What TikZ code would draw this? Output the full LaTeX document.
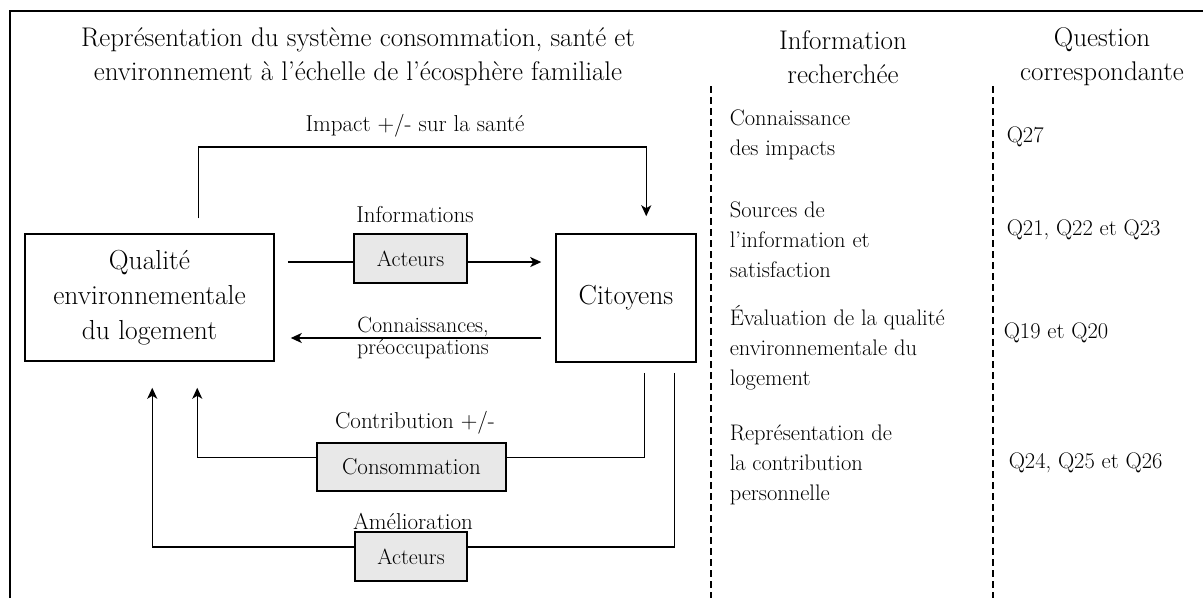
\documentclass[tikz,border=0pt]{standalone}
\usepackage{fontspec}
\usetikzlibrary{arrows.meta,calc}
\begin{document}
\begin{tikzpicture}[x=1pt,y=-1pt,line width=1.5pt,
  box/.style={draw,line width=1.5pt,inner sep=0pt,align=center,font=\fontsize{27.5}{35}\selectfont},
  gbox/.style={draw,fill=gray!18,line width=1.5pt,inner sep=0pt,font=\fontsize{22}{25}\selectfont},
  arr/.style={-{Stealth[length=11pt,width=10pt,inset=3pt]}},
  lbl/.style={inner sep=0pt,align=center,font=\fontsize{23}{26}\selectfont},
  head/.style={inner sep=0pt,align=center,font=\fontsize{27}{34}\selectfont},
  small/.style={inner sep=0pt,align=left,anchor=west,font=\fontsize{22.5}{30}\selectfont},
  sep/.style={line width=1.3pt,dash pattern=on 7pt off 4pt}]
\useasboundingbox (0,0) rectangle (1203,598);
\draw[line width=1.8pt] (10,598) -- (10,11) -- (1203,11);

% headers
\node[head] (title) at (358,57) {Représentation du système consommation, santé et\\environnement à l’échelle de l’écosphère familiale};
\node[head] (h1) at (843,57) {Information\\recherchée};
\node[head] (h2) at (1102,57) {Question\\correspondante};

% separators
\draw[sep] (711,86) -- (711,598);
\draw[sep] (993,86) -- (993,598);

% main boxes
\node[box,minimum width=249pt,minimum height=127pt] (qual) at (149.5,297.5) {Qualité\\environnementale\\du logement};
\node[box,minimum width=140pt,minimum height=128pt] (cit) at (626,298) {Citoyens};
\node[gbox,minimum width=113pt,minimum height=49pt] (act1) at (410.5,258.5) {Acteurs};
\node[gbox,minimum width=189pt,minimum height=48pt,font=\fontsize{23}{26}\selectfont] (cons) at (411.5,467) {Consommation};
\node[gbox,minimum width=112pt,minimum height=49pt] (act2) at (411,556.5) {Acteurs};

% labels
\node[lbl] (limp) at (415,126) {Impact +/- sur la santé};
\node[lbl] (linf) at (415,215) {Informations};
\node[lbl,font=\fontsize{22}{22}\selectfont] (lcon) at (423,338) {Connaissances,\\préoccupations};
\node[lbl] (lctr) at (415,423) {Contribution +/-};
\node[lbl] (lame) at (413,521) {Amélioration};

% top loop
\coordinate (tl) at ($(qual.north west)+(174,-15)$);
\coordinate (tr) at ($(cit.north west)+(91,-17)$);
\draw[arr] (tl) |- (tr |- 0,147) -- (tr);

% informations
\coordinate (a1w) at ($(act1.north west)!0.57!(act1.south west)$);
\coordinate (a1e) at ($(act1.north east)!0.57!(act1.south east)$);
\draw[shorten <=13pt] (qual.east |- a1w) -- (a1w);
\draw[arr,shorten >=14pt] (a1e) -- (cit.west |- a1e);

% connaissances
\draw[arr,shorten <=14pt,shorten >=16pt] (cit.west |- 0,338) -- (qual.east |- 0,338);

% bottom loops
\coordinate (r1) at ($(cit.south west)+(89,10)$);
\coordinate (r2) at ($(cit.south west)+(119,10)$);
\coordinate (l1) at ($(qual.south west)+(173,26)$);
\coordinate (l2) at ($(qual.south west)+(128,26)$);
\coordinate (ce) at ($(cons.north east)!0.31!(cons.south east)$);
\coordinate (cw) at ($(cons.north west)!0.31!(cons.south west)$);
\coordinate (a2e) at ($(act2.north east)!0.31!(act2.south east)$);
\coordinate (a2w) at ($(act2.north west)!0.31!(act2.south west)$);
\draw (r1) |- (ce);
\draw[arr] (cw) -| (l1);
\draw (r2) |- (a2e);
\draw[arr] (a2w) -| (l2);

% right columns
\node[small] (c1) at (729,135) {Connaissance\\des impacts};
\node[small] (c2) at (729,240) {Sources de\\l’information et\\satisfaction};
\node[small] (c3) at (729,348) {Évaluation de la qualité\\environnementale du\\logement};
\node[small] (c4) at (729,465) {Représentation de\\la contribution\\personnelle};
\node[small] (q1) at (1006,137) {Q27};
\node[small] (q2) at (1006,230) {Q21, Q22 et Q23};
\node[small] (q3) at (1003,333) {Q19 et Q20};
\node[small] (q4) at (1008,463) {Q24, Q25 et Q26};
\end{tikzpicture}
\end{document}
